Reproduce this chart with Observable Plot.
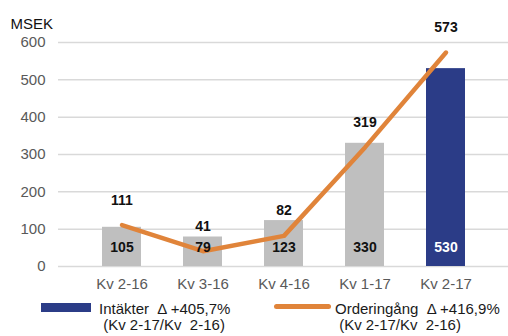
<!DOCTYPE html>
<html><head><meta charset="utf-8">
<script src="https://cdn.jsdelivr.net/npm/d3@7"></script>
<script src="https://cdn.jsdelivr.net/npm/@observablehq/plot@0.6"></script>
<style>
body{margin:0;background:#fff;font-family:"Liberation Sans",Arial,sans-serif;}
#wrap{position:relative;width:508px;height:336px;overflow:hidden;}
.lg{position:absolute;font-size:15px;color:#1a1a1a;white-space:pre;line-height:16px;}
.sw{position:absolute;}
</style></head>
<body><div id="wrap"><div id="chart"></div>
<div class="sw" style="left:41px;top:303px;width:50px;height:9px;background:#2b3c87"></div>
<div class="lg" style="left:99px;top:301px;">Intäkter  Δ +405,7%
 (Kv 2-17/Kv  2-16)</div>
<div class="sw" style="left:274px;top:304px;width:57px;height:5px;border-radius:3px;background:#e0843a"></div>
<div class="lg" style="left:335px;top:301px;">Orderingång  Δ +416,9%
 (Kv 2-17/Kv  2-16)</div>
</div>
<script>
const categories = ["Kv 2-16","Kv 3-16","Kv 4-16","Kv 1-17","Kv 2-17"];
const intakter = [105, 79, 123, 330, 530];
const orderingang = [111, 41, 82, 319, 573];
const yTicks = [0,100,200,300,400,500,600];

const data = categories.map((c,i)=>({cat:c, intakter:intakter[i], order:orderingang[i], last:i===categories.length-1}));

const chart = Plot.plot({
  width: 508, height: 296,
  marginLeft: 58, marginRight: 0, marginTop: 42, marginBottom: 30,
  style:{fontFamily:'"Liberation Sans",Arial,sans-serif', fontSize:"15px", background:"transparent"},
  x:{domain:categories, padding:0.52, label:null, tickSize:0, tickPadding:12},
  y:{domain:[0,600], ticks:yTicks, label:null, tickSize:0, tickPadding:13},
  marks:[
    Plot.ruleY(yTicks, {stroke:"#d9d9d9", strokeWidth:1.5}),
    Plot.barY(data, {x:"cat", y:"intakter", fill:d=>d.last?"#2b3c87":"#bfbfbf"}),
    Plot.line(data, {x:"cat", y:"order", stroke:"#e0843a", strokeWidth:4.5, strokeLinecap:"round", strokeLinejoin:"round"}),
    Plot.text(data, {x:"cat", y:0, text:d=>String(d.intakter), dy:-19, fill:d=>d.last?"#ffffff":"#111111", fontWeight:"bold", fontSize:14}),
    Plot.text(data, {x:"cat", y:"order", text:d=>String(d.order), dy:-25, fill:"#111111", fontWeight:"bold", fontSize:14}),
    Plot.axisX({tickSize:0, tickPadding:12, fill:"#595959", fontSize:15}),
    Plot.axisY({ticks:yTicks, tickSize:0, tickPadding:13, fill:"#595959", fontSize:15}),
    Plot.text(["MSEK"], {frameAnchor:"top-left", dx:-48, dy:-24, fill:"#111111", fontSize:15})
  ]
});
document.getElementById("chart").appendChild(chart);
</script></body></html>
